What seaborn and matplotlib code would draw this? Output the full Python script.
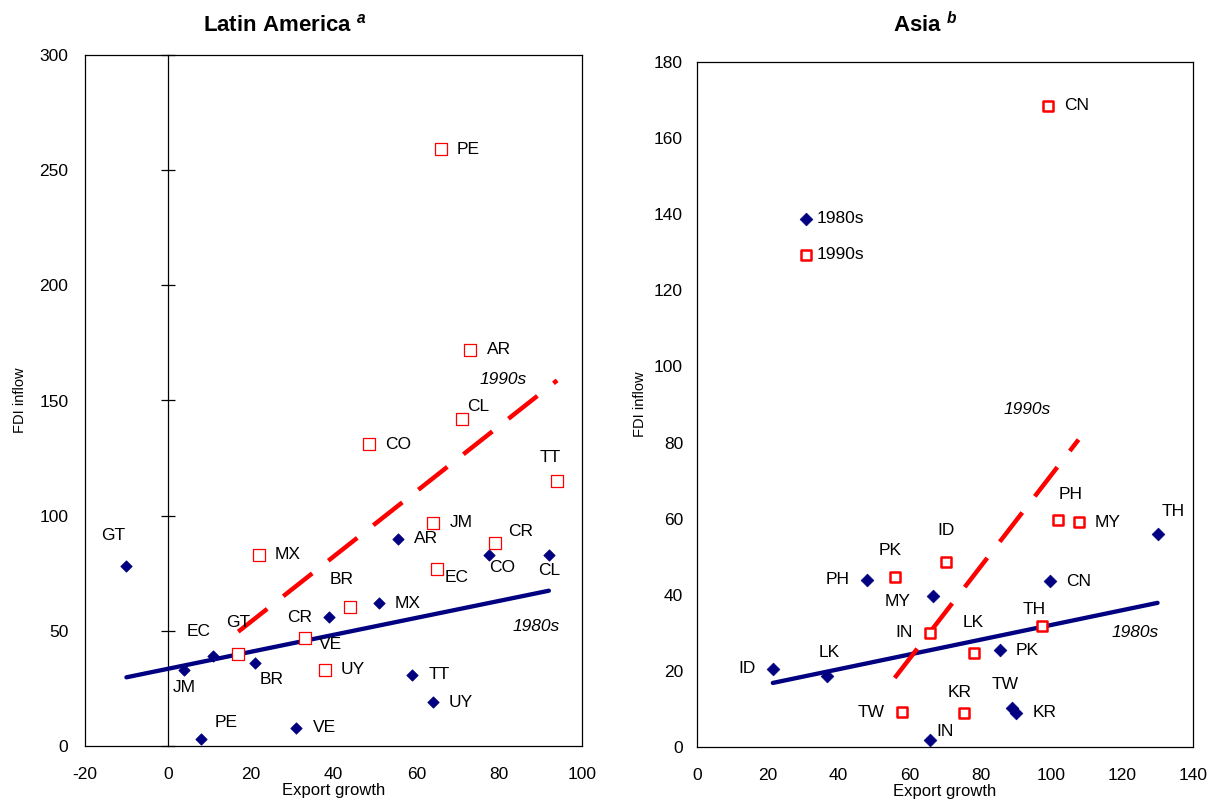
import numpy as np
import pandas as pd
import matplotlib
matplotlib.use("Agg")
import matplotlib.pyplot as plt
import seaborn as sns

# Latin America, 1980s
la_80_code = ["GT", "JM", "EC", "BR", "PE", "VE", "CR", "MX", "AR", "TT", "UY", "CO", "CL"]
la_80_x = [-10, 4, 11, 21, 8, 31, 39, 51, 55.5, 59, 64, 77.5, 92]
la_80_y = [78, 33, 39, 36, 3, 8, 56, 62, 90, 31, 19, 83, 83]
# Latin America, 1990s
la_90_code = ["MX", "GT", "VE", "UY", "BR", "JM", "EC", "CR", "CO", "CL", "AR", "TT", "PE"]
la_90_x = [22, 17, 33, 38, 44, 64, 65, 79, 48.5, 71, 73, 94, 66]
la_90_y = [83, 40, 47, 33, 60.5, 97, 77, 88, 131, 142, 172, 115, 259]

# Asia, 1980s
as_80_code = ["ID", "LK", "PH", "MY", "IN", "PK", "TW", "KR", "CN", "TH"]
as_80_x = [21.4, 36.7, 48, 66.5, 65.8, 85.4, 89, 90, 99.5, 130]
as_80_y = [20.5, 18.6, 44, 39.7, 1.8, 25.4, 10.3, 9, 43.5, 56]
# Asia, 1990s
as_90_code = ["PK", "ID", "IN", "LK", "TH", "TW", "KR", "PH", "MY", "CN"]
as_90_x = [55.8, 70.4, 65.9, 78.2, 97.4, 58, 75.3, 102, 107.7, 99]
as_90_y = [44.8, 48.7, 30, 24.7, 31.8, 9.1, 8.9, 59.6, 59.1, 168.5]

# label offsets (pixels, label centre relative to marker)
la_80_off = {"GT": (-13, 31), "JM": (0, -18), "EC": (-15, 25), "BR": (17, -16), "PE": (25, 17),
             "VE": (28, 0), "CR": (-30, 0), "MX": (29, 0), "AR": (28, 0), "TT": (27, 0),
             "UY": (28, 0), "CO": (13, -13), "CL": (0, -16)}
la_90_off = {"MX": (29, 0), "GT": (0, 31), "VE": (26, -7), "UY": (28, 0), "BR": (-8, 27),
             "JM": (28, 0), "EC": (20, -9), "CR": (26, 12), "CO": (29, 0), "CL": (16, 12),
             "AR": (29, 0), "TT": (-7, 24), "PE": (27, 0)}
as_80_off = {"ID": (-26, 0), "LK": (2, 24), "PH": (-29, 0), "MY": (-35, -6), "IN": (15, 9),
             "PK": (28, 0), "TW": (-7, 23), "KR": (29, 0), "CN": (29, 0), "TH": (16, 22)}
as_90_off = {"PK": (-5, 26), "ID": (0, 31), "IN": (-26, 0), "LK": (-1, 31), "TH": (-8, 16),
             "TW": (-31, 0), "KR": (-4, 21), "PH": (12, 26), "MY": (29, 0), "CN": (29, 0)}

NAVY = "#000080"
RED = "#ff0000"

sns.set_style("white")
plt.rcParams["font.family"] = ["Liberation Sans", "DejaVu Sans"]
plt.rcParams["axes.unicode_minus"] = False
plt.rcParams["mathtext.fontset"] = "custom"
plt.rcParams["mathtext.it"] = "Liberation Sans:italic:bold"
plt.rcParams["axes.edgecolor"] = "black"
plt.rcParams["axes.linewidth"] = 0.9
for k in ("text.color", "axes.labelcolor", "xtick.color", "ytick.color"):
    plt.rcParams[k] = "black"

fig = plt.figure(figsize=(12.15, 8.05), dpi=100)
ax1 = fig.add_axes([85 / 1215, 59 / 805, 497 / 1215, 691 / 805])
ax2 = fig.add_axes([697 / 1215, 58 / 805, 496 / 1215, 685 / 805])


def panel(ax, x80, y80, c80, off80, x90, y90, c90, off90, sq_s, sq_lw, d_s, legend):
    d80 = pd.DataFrame({"x": x80, "y": y80, "code": c80})
    d90 = pd.DataFrame({"x": x90, "y": y90, "code": c90})
    sns.regplot(data=d80, x="x", y="y", ax=ax, scatter=False, ci=None, truncate=True,
                color=NAVY, line_kws=dict(lw=3.1, solid_capstyle="round"))
    sns.regplot(data=d90, x="x", y="y", ax=ax, scatter=False, ci=None, truncate=True,
                color=RED, line_kws=dict(lw=3.2, dashes=(8.3, 4.6), dash_capstyle="butt"))
    sns.scatterplot(data=d80, x="x", y="y", ax=ax, marker="D", s=d_s, color=NAVY,
                    edgecolor=NAVY, linewidth=0.5, zorder=4,
                    label="1980s" if legend else None)
    sns.scatterplot(data=d90, x="x", y="y", ax=ax, marker="s", s=sq_s, facecolor="white",
                    edgecolor=RED, linewidth=sq_lw, zorder=4,
                    label="1990s" if legend else None)
    for d, off in ((d80, off80), (d90, off90)):
        for _, r in d.iterrows():
            ax.annotate(r["code"], (r["x"], r["y"]), xytext=off[r["code"]],
                        textcoords="offset pixels", ha="center", va="center",
                        fontsize=12.5, zorder=5)
    ax.set_xlabel("Export growth", fontsize=12, labelpad=1)
    ax.set_ylabel("FDI inflow", fontsize=10.5,
                  family=["Liberation Sans Narrow", "Liberation Sans", "DejaVu Sans"])
    ax.tick_params(axis="x", direction="in", length=4, pad=15, labelsize=12.5)
    for s in ax.spines.values():
        s.set_visible(True)
        s.set_color("black")


# Latin America
panel(ax1, la_80_x, la_80_y, la_80_code, la_80_off, la_90_x, la_90_y, la_90_code, la_90_off,
      sq_s=72, sq_lw=0.9, d_s=34, legend=False)
ax1.set_xlim(-20, 100)
ax1.set_ylim(0, 300)
ax1.set_xticks(np.arange(-20, 101, 20))
ax1.set_yticks(np.arange(0, 301, 50))
ax1.tick_params(axis="y", length=0, pad=12, labelsize=12.5)
ax1.yaxis.labelpad = 9
vline = ax1.secondary_yaxis((0 - (-20)) / 120)
vline.tick_params(axis="y", direction="inout", length=10, labelleft=False, width=0.9)
vline.spines["left"].set_linewidth(0.9)
ax1.text(81, 159, "1990s", style="italic", fontsize=12.5, ha="center", va="center")
ax1.text(89, 52, "1980s", style="italic", fontsize=12.5, ha="center", va="center")

# Asia
panel(ax2, as_80_x, as_80_y, as_80_code, as_80_off, as_90_x, as_90_y, as_90_code, as_90_off,
      sq_s=58, sq_lw=1.8, d_s=42, legend=True)
ax2.set_xlim(0, 140)
ax2.set_ylim(0, 180)
ax2.set_xticks(np.arange(0, 141, 20))
ax2.set_yticks(np.arange(0, 181, 20))
ax2.tick_params(axis="y", direction="in", length=4, pad=10, labelsize=12.5)
ax2.yaxis.labelpad = 5
ax2.text(93.3, 88.7, "1990s", style="italic", fontsize=12.5, ha="center", va="center")
ax2.text(123.7, 30.2, "1980s", style="italic", fontsize=12.5, ha="center", va="center")
ax2.legend(loc="upper left", bbox_to_anchor=(0.203, 0.782), frameon=False, fontsize=12.5,
           handlelength=1.0, handletextpad=0.1, labelspacing=1.2, borderpad=0,
           borderaxespad=0)

fig.text(203 / 1215, 1 - 25 / 805, r"Latin America $^{a}$", fontsize=16, fontweight="bold",
         ha="left", va="center")
fig.text(893 / 1215, 1 - 25 / 805, r"Asia $^{b}$", fontsize=16, fontweight="bold",
         ha="left", va="center")

fig.savefig("out.png", dpi=100)
